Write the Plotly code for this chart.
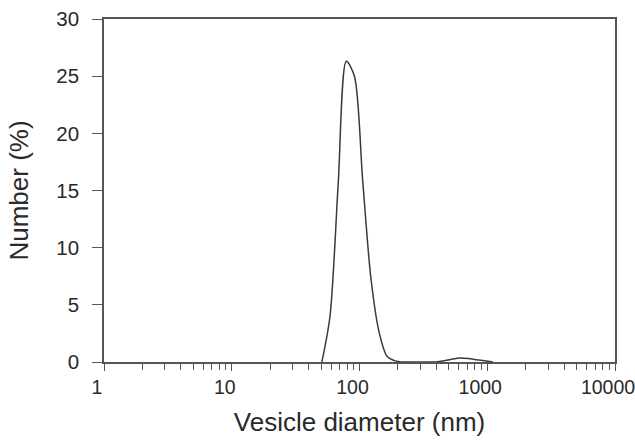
import plotly.graph_objects as go

# Vesicle size distribution (DLS, number-weighted)
diameter_nm = [50.75, 58.77, 68.06, 78.82, 91.28, 105.7, 122.4, 141.8, 164.2, 190.1,
               220.2, 255.0, 295.3, 342.0, 396.1, 458.7, 531.2, 615.1, 712.4, 825.0,
               955.4, 1106.0]
number_pct = [0.0, 4.0, 15.5, 26.3, 25.0, 16.0, 7.5, 2.7, 0.5, 0.1,
              0.0, 0.0, 0.0, 0.0, 0.0, 0.1, 0.25, 0.35, 0.3, 0.2,
              0.1, 0.0]

x_tickvals = [1, 10, 100, 1000, 10000]
x_ticktext = ["1", "10", "100", "1000", "10000"]
y_tickvals = [0, 5, 10, 15, 20, 25, 30]

axis_color = "#555555"
text_color = "#2a2a2a"
font_family = "Liberation Sans, Arial, sans-serif"

fig = go.Figure()
fig.add_trace(go.Scatter(
    x=diameter_nm, y=number_pct, mode="lines",
    line=dict(color="#3a3a3a", width=1.5, shape="spline", smoothing=0.8),
    showlegend=False, hoverinfo="x+y",
))

fig.update_layout(
    width=635, height=440,
    margin=dict(l=104, r=20, t=19, b=78, autoexpand=False),
    paper_bgcolor="white", plot_bgcolor="white",
    font=dict(family=font_family, color=text_color, size=19),
)

fig.update_xaxes(
    type="log", range=[0, 4], automargin=False,
    tickvals=x_tickvals, ticktext=x_ticktext,
    ticks="outside", ticklen=7, tickwidth=1.3, tickcolor=axis_color,
    minor=dict(ticks="outside", ticklen=6, tickwidth=1.3, tickcolor=axis_color, dtick="D1", showgrid=False),
    showline=True, linecolor=axis_color, linewidth=1.5, mirror=True,
    showgrid=False, zeroline=False,
    ticklabeloverflow="allow", ticklabelshift=-7,
    tickfont=dict(size=19.5, color=text_color),
    title=dict(text="Vesicle diameter (nm)", font=dict(size=26, color=text_color), standoff=16),
)
fig.update_yaxes(
    range=[0, 30], automargin=False,
    tickvals=y_tickvals,
    ticks="outside", ticklen=10, tickwidth=1.3, tickcolor=axis_color,
    showline=True, linecolor=axis_color, linewidth=1.5, mirror=True,
    showgrid=False, zeroline=False,
    ticklabelstandoff=9,
    tickfont=dict(size=20.5, color=text_color),
    title=dict(text="Number (%)", font=dict(size=26, color=text_color), standoff=20),
)

fig.write_html("out.html", config={"displayModeBar": False})

# remove the default page margin so the figure sits at the window origin
with open("out.html", "r", encoding="utf-8") as f:
    html = f.read()
html = html.replace("<head>", "<head><style>html,body{margin:0;padding:0;overflow:hidden;}</style>", 1)
with open("out.html", "w", encoding="utf-8") as f:
    f.write(html)
